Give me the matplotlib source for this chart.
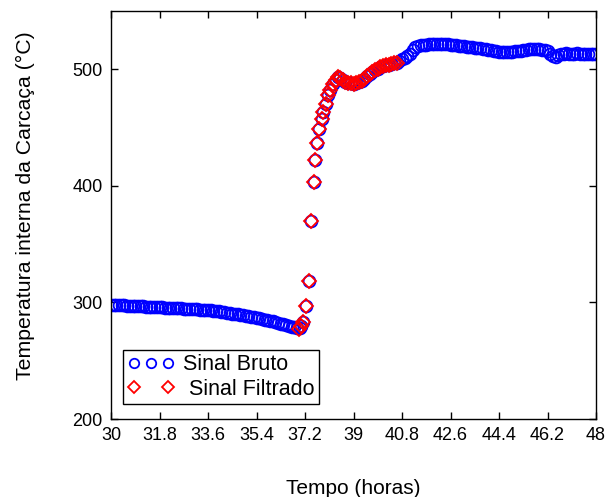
import numpy as np
import matplotlib
matplotlib.use("Agg")
import matplotlib.pyplot as plt
from matplotlib.legend_handler import HandlerLine2D

plt.rcParams['font.family'] = ['Liberation Sans', 'DejaVu Sans']

# sinal bruto (horas, °C)
t_bruto = [30.0, 30.1, 30.2, 30.3, 30.4, 30.5, 30.6, 30.7, 30.8, 30.9,
           31.0, 31.1, 31.2, 31.3, 31.4, 31.5, 31.6, 31.7, 31.8, 31.9,
           32.0, 32.1, 32.2, 32.3, 32.4, 32.5, 32.6, 32.7, 32.8, 32.9,
           33.0, 33.1, 33.2, 33.3, 33.4, 33.5, 33.6, 33.7, 33.8, 33.9,
           34.0, 34.1, 34.2, 34.3, 34.4, 34.5, 34.6, 34.7, 34.8, 34.9,
           35.0, 35.1, 35.2, 35.3, 35.4, 35.5, 35.6, 35.7, 35.8, 35.9,
           36.0, 36.1, 36.2, 36.3, 36.4, 36.5, 36.6, 36.7, 36.8, 36.9,
           37.0, 37.07, 37.14, 37.24, 37.36, 37.44, 37.54, 37.57, 37.64, 37.73,
           37.82, 37.88, 37.98, 38.07, 38.13, 38.25, 38.35, 38.44,
           38.5, 38.6, 38.7, 38.8, 38.9, 39.0, 39.1, 39.2, 39.3, 39.4,
           39.5, 39.6, 39.7, 39.8, 39.9, 40.0, 40.1, 40.2, 40.3, 40.4,
           40.5, 40.6, 40.7, 40.8, 40.9, 41.0, 41.1, 41.2, 41.3, 41.4,
           41.5, 41.6, 41.7, 41.8, 41.9, 42.0, 42.1, 42.2, 42.3, 42.4,
           42.5, 42.6, 42.7, 42.8, 42.9, 43.0, 43.1, 43.2, 43.3, 43.4,
           43.5, 43.6, 43.7, 43.8, 43.9, 44.0, 44.1, 44.2, 44.3, 44.4,
           44.5, 44.6, 44.7, 44.8, 44.9, 45.0, 45.1, 45.2, 45.3, 45.4,
           45.5, 45.6, 45.7, 45.8, 45.9, 46.0, 46.1, 46.2, 46.3, 46.4,
           46.5, 46.6, 46.7, 46.8, 46.9, 47.0, 47.1, 47.2, 47.3, 47.4,
           47.5, 47.6, 47.7, 47.8, 47.9, 48.0]
temp_bruto = [297.8, 297.7, 297.6, 297.6, 297.5, 297.4, 297.3, 297.2, 297.1, 297.0,
              296.9, 296.8, 296.6, 296.5, 296.4, 296.3, 296.1, 296.0, 295.9, 295.8,
              295.6, 295.5, 295.4, 295.2, 295.1, 295.0, 294.8, 294.7, 294.6, 294.4,
              294.3, 294.1, 294.0, 293.8, 293.6, 293.5, 293.3, 293.1, 292.9, 292.6,
              292.3, 292.0, 291.7, 291.3, 290.9, 290.5, 290.1, 289.7, 289.3, 288.9,
              288.5, 288.1, 287.6, 287.2, 286.8, 286.3, 285.8, 285.3, 284.8, 284.3,
              283.7, 283.1, 282.5, 281.9, 281.3, 280.6, 280.0, 279.3, 278.7, 278.2,
              277.8, 279.5, 283.4, 297.0, 318.3, 370.0, 403.4, 422.6, 436.5, 449.0,
              457.7, 463.4, 470.6, 477.7, 482.0, 487.7, 491.0, 493.0,
              492.5, 491.0, 489.5, 488.5, 488.0, 487.8, 488.2, 489.0, 490.0, 491.5,
              494.0, 496.0, 497.5, 499.0, 500.5, 502.0, 503.0, 503.5, 504.0, 504.5,
              505.0, 505.8, 507.0, 508.5, 510.0, 511.5, 513.5, 516.5, 519.0, 520.0,
              520.5, 521.0, 521.0, 521.5, 522.0, 522.0, 522.0, 522.0, 521.8, 521.6,
              521.4, 521.2, 521.0, 520.7, 520.4, 520.1, 519.8, 519.5, 519.2, 518.9,
              518.6, 518.3, 518.0, 517.6, 517.2, 516.8, 516.3, 515.9, 515.5, 515.2,
              515.0, 514.9, 514.9, 515.0, 515.2, 515.5, 515.8, 516.1, 516.5, 516.9,
              517.3, 517.6, 517.7, 517.5, 517.1, 516.6, 516.3, 515.5, 513.0, 511.0,
              510.8, 512.0, 513.0, 513.5, 513.6, 513.5, 513.4, 513.5, 513.6, 513.5,
              513.4, 513.5, 513.5, 513.4, 513.5, 513.5]

# sinal filtrado
t_filtrado = [36.98, 37.07, 37.14, 37.24, 37.36, 37.44, 37.54, 37.57, 37.64, 37.73,
              37.82, 37.88, 37.98, 38.07, 38.13, 38.25, 38.35, 38.44,
              38.5, 38.6, 38.7, 38.8, 38.9, 39.0, 39.1, 39.2, 39.3, 39.4,
              39.5, 39.6, 39.7, 39.8, 39.9, 40.0, 40.1, 40.2, 40.3, 40.4,
              40.5, 40.6]
temp_filtrado = [277.6, 279.5, 283.4, 297.0, 318.3, 370.0, 403.4, 422.6, 436.5, 449.0,
                 457.7, 463.4, 470.6, 477.7, 482.0, 487.7, 491.0, 493.0,
                 492.5, 491.0, 489.5, 488.5, 488.0, 487.8, 488.2, 489.0, 490.0, 491.5,
                 494.0, 496.0, 497.5, 499.0, 500.5, 502.0, 503.0, 503.5, 504.0, 504.5,
                 505.0, 505.8]

xticks = [30, 31.8, 33.6, 35.4, 37.2, 39, 40.8, 42.6, 44.4, 46.2, 48]
xticklabels = ['30', '31.8', '33.6', '35.4', '37.2', '39', '40.8', '42.6', '44.4', '46.2', '48']
yticks = [200, 300, 400, 500]

fig = plt.figure(figsize=(6.11, 4.97), dpi=100)
ax = fig.add_axes([111 / 611, (497 - 419) / 497, 485 / 611, 408 / 497])

ax.plot(t_bruto, temp_bruto, 'o', ls='none', ms=8.5, mfc='none', mec='blue', mew=1.3,
        label='Sinal Bruto')
ax.plot(t_filtrado, temp_filtrado, 'D', ls='none', ms=7.2, mfc='none', mec='red', mew=1.3,
        label=' Sinal Filtrado')

ax.set_xlim(30, 48)
ax.set_ylim(200, 550)
ax.set_xticks(xticks)
ax.set_xticklabels(xticklabels)
ax.set_yticks(yticks)
ax.tick_params(direction='in', top=True, right=True, length=5, width=1,
               labelsize=13, pad=6)
for s in ax.spines.values():
    s.set_linewidth(1.0)

ax.set_xlabel('Tempo (horas)', fontsize=15, labelpad=25)
ax.set_ylabel('Temperatura interna da Carcaça (°C)', fontsize=15.3, labelpad=27)
ax.yaxis.label.set_y(0.522)

h, l = ax.get_legend_handles_labels()
leg = ax.legend(h, l, loc='lower left', bbox_to_anchor=(0.025, 0.037), borderaxespad=0,
                fontsize=15.5, fancybox=False, edgecolor='black', framealpha=1,
                markerscale=0.8, handlelength=2.2, handletextpad=0.4, borderpad=0.2,
                labelspacing=0.15,
                handler_map={h[0]: HandlerLine2D(numpoints=3),
                             h[1]: HandlerLine2D(numpoints=2)})
leg.get_frame().set_linewidth(1.0)

fig.savefig('out.png', dpi=100)
